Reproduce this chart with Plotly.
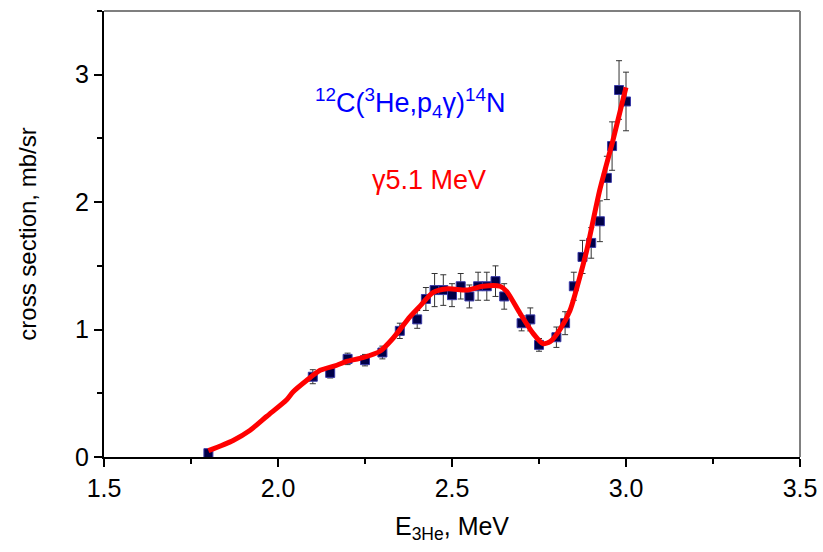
import plotly.graph_objects as go

# Experimental data: E(3He) in MeV, cross section in mb/sr, errors
energy = [1.80, 2.10, 2.15, 2.20, 2.25, 2.30, 2.35, 2.40, 2.425, 2.45, 2.475,
          2.50, 2.525, 2.55, 2.575, 2.60, 2.625, 2.65, 2.70, 2.725, 2.75,
          2.80, 2.825, 2.85, 2.875, 2.90, 2.925, 2.945, 2.96, 2.98, 3.00]
xsec = [0.03, 0.63, 0.66, 0.77, 0.76, 0.82, 0.99, 1.08, 1.24, 1.31, 1.31,
        1.27, 1.34, 1.26, 1.34, 1.34, 1.38, 1.26, 1.05, 1.08, 0.88,
        0.94, 1.05, 1.34, 1.57, 1.68, 1.85, 2.19, 2.44, 2.88, 2.79]
xsec_err = [0.02, 0.055, 0.04, 0.045, 0.045, 0.05, 0.06, 0.07, 0.09, 0.13, 0.12,
            0.09, 0.10, 0.09, 0.11, 0.11, 0.12, 0.10, 0.06, 0.09, 0.05,
            0.08, 0.09, 0.11, 0.13, 0.12, 0.16, 0.17, 0.19, 0.23, 0.23]

# Fitted curve (red)
fit_e = [1.80, 1.871, 1.92, 1.968, 2.025, 2.043, 2.082, 2.121, 2.169, 2.197,
         2.244, 2.293, 2.33, 2.379, 2.41, 2.445, 2.489, 2.542, 2.589,
         2.638, 2.657, 2.695, 2.733, 2.761, 2.782, 2.81, 2.839, 2.868, 2.887,
         2.925, 2.963, 3.00]
fit_y = [0.05, 0.13, 0.21, 0.32, 0.45, 0.51, 0.60, 0.68, 0.72, 0.75,
         0.78, 0.83, 0.93, 1.10, 1.19, 1.29, 1.32, 1.31, 1.34,
         1.34, 1.30, 1.13, 0.97, 0.89, 0.905, 1.00, 1.15, 1.42, 1.62,
         2.10, 2.49, 2.90]

x_ticks = [1.5, 2.0, 2.5, 3.0, 3.5]
x_ticklabels = ["1.5", "2.0", "2.5", "3.0", "3.5"]
y_ticks = [0, 1, 2, 3]
y_ticklabels = ["0", "1", "2", "3"]

FONT = "Liberation Sans"

fig = go.Figure()
fig.add_trace(go.Scatter(
    x=energy, y=xsec, mode="markers",
    marker=dict(symbol="square", size=9, color="#000048",
                line=dict(color="#3a3aa8", width=1)),
    error_y=dict(type="data", array=xsec_err, visible=True,
                 color="#333333", thickness=1, width=3),
    showlegend=False,
))
fig.add_trace(go.Scatter(
    x=fit_e, y=fit_y, mode="lines",
    line=dict(color="#ff0000", width=5, shape="spline", smoothing=0.7),
    showlegend=False,
))

fig.add_annotation(x=2.38, y=2.78, xref="x", yref="y", showarrow=False,
                   text="<sup>12</sup>C(<sup>3</sup>He,p<sub>4</sub>γ)<sup>14</sup>N",
                   font=dict(family=FONT, size=27, color="#0000ff"))
fig.add_annotation(x=2.434, y=2.17, xref="x", yref="y", showarrow=False,
                   text="γ5.1 MeV",
                   font=dict(family=FONT, size=27, color="#ff0000"))

# thin grey frame on top and right
fig.add_shape(type="line", xref="paper", yref="paper", x0=0, x1=1, y0=1, y1=1,
              line=dict(color="#555555", width=1.5))
fig.add_shape(type="line", xref="paper", yref="paper", x0=1, x1=1, y0=0, y1=1,
              line=dict(color="#808080", width=2))

fig.update_layout(
    width=823, height=552,
    margin=dict(l=104, r=23, t=11, b=95),
    plot_bgcolor="white", paper_bgcolor="white",
    font=dict(family=FONT, size=25, color="black"),
    xaxis=dict(
        range=[1.5, 3.5], tickmode="array", tickvals=x_ticks, ticktext=x_ticklabels,
        ticks="outside", ticklen=8, tickwidth=2, tickcolor="black",
        showline=True, linecolor="black", linewidth=2, showgrid=False, zeroline=False,
        automargin=False,
        minor=dict(dtick=0.25, tick0=1.5, ticks="outside", ticklen=5, tickwidth=1.5,
                   tickcolor="black", showgrid=False),
        title=dict(text="E<sub>3He</sub>, MeV",
                   font=dict(family=FONT, size=25, color="black"), standoff=16),
        tickfont=dict(family=FONT, size=25, color="black"),
    ),
    yaxis=dict(
        range=[0, 3.5], tickmode="array", tickvals=y_ticks, ticktext=y_ticklabels,
        ticks="outside", ticklen=8, tickwidth=2, tickcolor="black",
        showline=True, linecolor="black", linewidth=2, showgrid=False, zeroline=False,
        automargin=False,
        minor=dict(dtick=0.5, tick0=0, ticks="outside", ticklen=5, tickwidth=1.5,
                   tickcolor="black", showgrid=False),
        title=dict(text="cross section, mb/sr",
                   font=dict(family=FONT, size=24, color="black"), standoff=32),
        tickfont=dict(family=FONT, size=25, color="black"),
    ),
)

fig.write_html("out.html")
